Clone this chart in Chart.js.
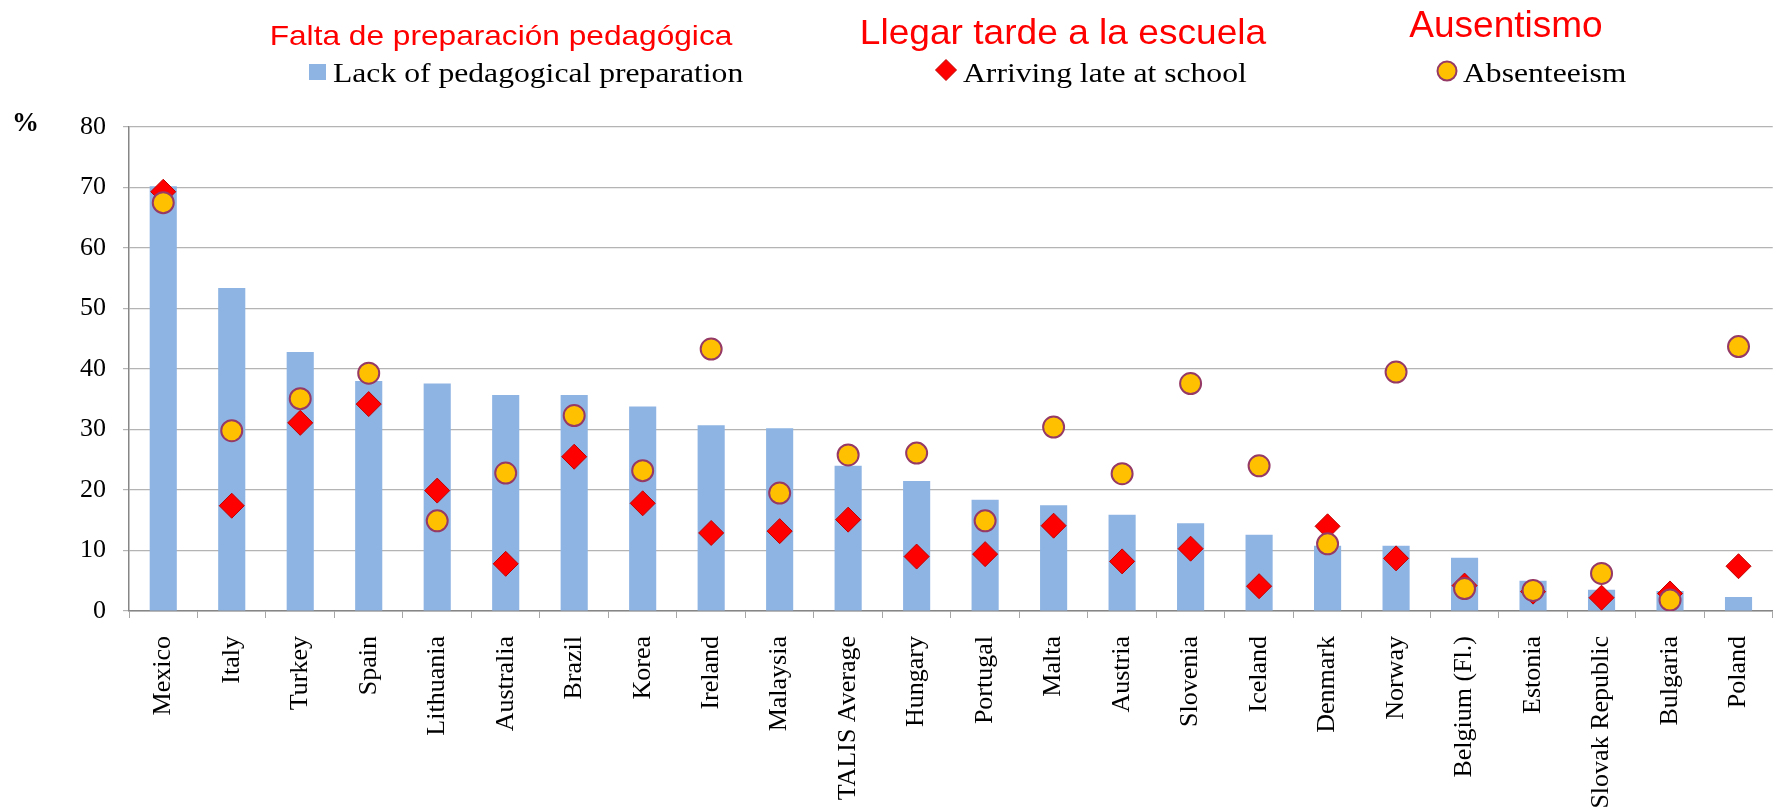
<!DOCTYPE html>
<html>
<head>
<meta charset="utf-8">
<script src="https://cdn.jsdelivr.net/npm/chart.js@4/dist/chart.umd.min.js"></script>
<style>
  html, body { margin: 0; padding: 0; background: #fff; overflow: hidden; }
  #wrap { width: 1788px; height: 812px; }
</style>
</head>
<body>
<div id="wrap"><canvas id="teacherChart" width="1788" height="812"></canvas></div>
<script>
const categories = ['Mexico', 'Italy', 'Turkey', 'Spain', 'Lithuania', 'Australia', 'Brazil', 'Korea',
    'Ireland', 'Malaysia', 'TALIS Average', 'Hungary', 'Portugal', 'Malta', 'Austria', 'Slovenia',
    'Iceland', 'Denmark', 'Norway', 'Belgium (Fl.)', 'Estonia', 'Slovak Republic', 'Bulgaria', 'Poland'];

const lackPrep = [70.2, 53.4, 42.8, 38.0, 37.6, 35.7, 35.7, 33.8, 30.7, 30.2, 24.0, 21.5,
    18.4, 17.5, 15.9, 14.5, 12.6, 10.8, 10.8, 8.8, 5.0, 3.5, 3.3, 2.3];
const arrivingLate = [69.3, 17.4, 31.1, 34.2, 19.9, 7.8, 25.5, 17.8, 12.9, 13.2, 15.1, 9.0,
    9.4, 14.1, 8.2, 10.3, 4.1, 14.0, 8.7, 4.2, 3.2, 2.2, 2.9, 7.4];
const absenteeism = [67.5, 29.8, 35.1, 39.3, 14.9, 22.8, 32.3, 23.2, 43.3, 19.5, 25.8, 26.1,
    14.9, 30.4, 22.7, 37.6, 24.0, 11.1, 39.5, 3.7, 3.4, 6.2, 1.8, 43.7];

const seriesNames = ['Lack of pedagogical preparation', 'Arriving late at school', 'Absenteeism'];
const spanishTitles = ['Falta de preparación pedagógica', 'Llegar tarde a la escuela', 'Ausentismo'];
const yTicks = [0, 10, 20, 30, 40, 50, 60, 70, 80];

const SERIF = '"Liberation Serif", "Times New Roman", serif';
const SANS = '"Liberation Sans", Arial, sans-serif';

// titles in red + legend row drawn on top of the chart
const headerPlugin = {
    id: 'header',
    afterDraw(chart) {
        const ctx = chart.ctx;
        const ds = chart.data.datasets;

        function stretchText(text, x, y, font, sx, align) {
            ctx.save();
            ctx.font = font;
            ctx.textAlign = align;
            ctx.textBaseline = 'alphabetic';
            ctx.translate(x, y);
            ctx.scale(sx, 1);
            ctx.fillText(text, 0, 0);
            ctx.restore();
        }

        ctx.save();
        ctx.fillStyle = '#ff0000';
        stretchText(spanishTitles[0], 501, 45, '28px ' + SANS, 1.13, 'center');
        stretchText(spanishTitles[1], 1063, 44, '35px ' + SANS, 1.06, 'center');
        stretchText(spanishTitles[2], 1506, 37, '37px ' + SANS, 1.0, 'center');

        // legend markers
        ctx.fillStyle = ds[0].backgroundColor;
        ctx.fillRect(309, 64, 17, 16);

        ctx.fillStyle = ds[1].backgroundColor;
        ctx.strokeStyle = ds[1].borderColor;
        ctx.lineWidth = 1;
        Chart.helpers.drawPoint(ctx, { pointStyle: 'rectRot', radius: 10.5, rotation: 0, borderWidth: 1 }, 946, 70);

        ctx.fillStyle = ds[2].backgroundColor;
        ctx.strokeStyle = ds[2].borderColor;
        ctx.lineWidth = 2;
        Chart.helpers.drawPoint(ctx, { pointStyle: 'circle', radius: 9.5, rotation: 0, borderWidth: 2 }, 1447, 71);

        ctx.fillStyle = '#000';
        stretchText(seriesNames[0], 333, 82, '28px ' + SERIF, 1.13, 'left');
        stretchText(seriesNames[1], 963, 82, '28px ' + SERIF, 1.13, 'left');
        stretchText(seriesNames[2], 1463, 82, '28px ' + SERIF, 1.13, 'left');

        // unit label
        ctx.font = 'bold 27px ' + SERIF;
        ctx.textAlign = 'left';
        ctx.fillText('%', 12, 131);
        ctx.restore();
    }
};

const ctx = document.getElementById('teacherChart').getContext('2d');

new Chart(ctx, {
    type: 'bar',
    data: {
        labels: categories,
        datasets: [
            {
                type: 'bar',
                label: seriesNames[0],
                data: lackPrep,
                backgroundColor: '#8eb4e3',
                borderWidth: 0,
                categoryPercentage: 1,
                barPercentage: 0.396,
                order: 3
            },
            {
                type: 'line',
                label: seriesNames[1],
                data: arrivingLate,
                showLine: false,
                pointStyle: 'rectRot',
                pointRadius: 12.5,
                backgroundColor: '#ff0000',
                borderColor: '#c00000',
                pointBorderWidth: 1,
                order: 2
            },
            {
                type: 'line',
                label: seriesNames[2],
                data: absenteeism,
                showLine: false,
                pointStyle: 'circle',
                pointRadius: 10.5,
                backgroundColor: '#ffc000',
                borderColor: '#953a66',
                pointBorderWidth: 2,
                order: 1
            }
        ]
    },
    options: {
        responsive: false,
        animation: false,
        devicePixelRatio: 1,
        layout: {
            padding: { top: 127, right: 4, bottom: 0, left: 0 }
        },
        plugins: {
            legend: { display: false },
            tooltip: { enabled: false }
        },
        scales: {
            x: {
                offset: true,
                grid: {
                    display: true,
                    drawOnChartArea: false,
                    drawTicks: true,
                    tickLength: 7,
                    color: '#a6a6a6',
                    offset: true
                },
                border: { display: true, color: '#868686', width: 1.5 },
                ticks: {
                    minRotation: 90,
                    maxRotation: 90,
                    autoSkip: false,
                    padding: 18,
                    color: '#000',
                    font: { family: SERIF, size: 26 }
                },
                afterFit: function (scale) {
                    scale.height = 201;
                }
            },
            y: {
                min: 0,
                max: 80,
                afterBuildTicks: function (scale) {
                    scale.ticks = yTicks.map(v => ({ value: v }));
                },
                grid: {
                    color: '#b4b4b4',
                    lineWidth: 1.2,
                    tickLength: 6
                },
                border: { display: true, color: '#868686', width: 1.5 },
                ticks: {
                    padding: 17,
                    color: '#000',
                    font: { family: SERIF, size: 26 }
                },
                afterFit: function (scale) {
                    scale.width = 129;
                }
            }
        }
    },
    plugins: [headerPlugin]
});
</script>
</body>
</html>
